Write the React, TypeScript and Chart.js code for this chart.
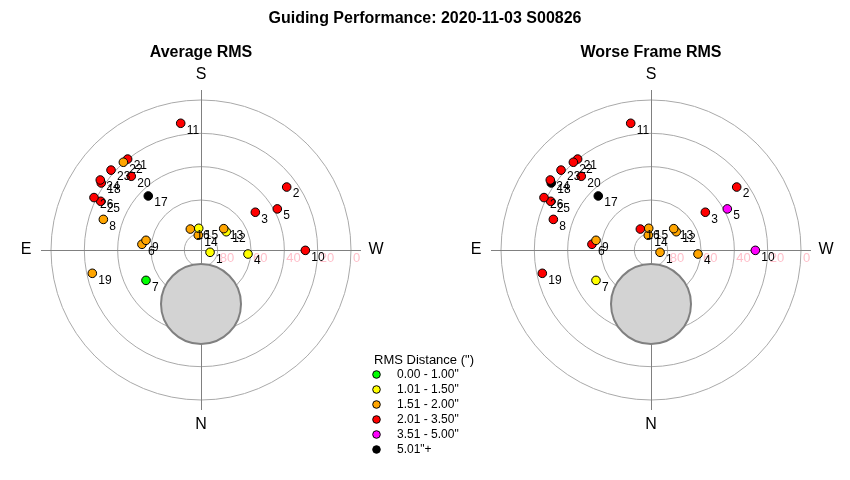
import React, { useEffect, useRef } from "react";
import { Chart, registerables } from "chart.js";

Chart.register(...registerables);

// ---------- data ----------
const chartTitle = "Guiding Performance: 2020-11-03 S00826";
const panelTitles = ["Average RMS", "Worse Frame RMS"];
const pointIds = [1, 2, 3, 4, 5, 6, 7, 8, 9, 10, 11, 12, 13, 14, 15, 16, 17, 18, 19, 20, 21, 22, 23, 24, 25, 26];
const altitudes = [84.4, 26.2, 50.3, 61.7, 38.0, 54.4, 52.3, 28.6, 56.5, 27.4, 13.0, 71.3, 71.3, 81.0, 76.9, 75.9, 44.7, 17.9, 23.3, 29.1, 19.9, 19.7, 17.8, 16.4, 23.1, 18.5];
const azimuths = [284.3, 233.7, 235.2, 274.9, 241.7, 95.5, 61.1, 107.4, 100.0, 270.2, 170.9, 234.1, 226.8, 169.6, 174.0, 153.0, 135.7, 123.9, 77.9, 136.6, 141.1, 138.5, 131.6, 124.8, 115.9, 116.1];
// RMS category index per point (index into binLabels / binColors)
const avgRmsBins = [1, 3, 3, 1, 3, 2, 0, 2, 2, 3, 3, 1, 2, 2, 1, 2, 5, 3, 2, 3, 3, 2, 3, 3, 3, 3];
const worstRmsBins = [2, 3, 3, 2, 4, 3, 1, 3, 2, 4, 3, 2, 2, 2, 2, 3, 5, 5, 3, 3, 3, 3, 3, 3, 3, 3];
const legendTitle = 'RMS Distance (")';
const binLabels = ['0.00 - 1.00"', '1.01 - 1.50"', '1.51 - 2.00"', '2.01 - 3.50"', '3.51 - 5.00"', '5.01"+'];
const binColors = ["#00ff00", "#ffff00", "#ffa500", "#ff0000", "#ff00ff", "#000000"];
const altitudeTicks = [80, 60, 40, 20, 0];
const directionLabels = ["N", "E", "S", "W"];
const directionAzimuths = [0, 90, 180, 270];
const moonAltitude = 57.6;
const moonAzimuth = 0;
const moonRadiusDeg = 24;

// ---------- layout (degrees of zenith distance as plot units) ----------
const PANEL_OFFSETS = [0, 270];
const X_MIN = -120.6;
const X_MAX = 389.4;
const Y_MIN = -138;
const Y_MAX = 150;
const AXIS_EXTENT = 96;
const DIR_LABEL_R = 105;

const FONT = '"Liberation Sans", Arial, Helvetica, sans-serif';

function toXY(alt: number, az: number, offset: number) {
  const zd = 90 - alt;
  const a = (az * Math.PI) / 180;
  return { x: offset - zd * Math.sin(a), y: -zd * Math.cos(a) };
}

const decorPlugin = {
  id: "polarDecor",
  beforeDatasetsDraw(chart: any) {
    const ctx: CanvasRenderingContext2D = chart.ctx;
    const xs = chart.scales.x;
    const ys = chart.scales.y;
    const k = xs.getPixelForValue(1) - xs.getPixelForValue(0);
    ctx.save();
    PANEL_OFFSETS.forEach((off) => {
      const cx = xs.getPixelForValue(off);
      const cy = ys.getPixelForValue(0);
      // grid circles
      ctx.strokeStyle = "#a9a9a9";
      ctx.lineWidth = 1;
      altitudeTicks.forEach((alt) => {
        ctx.beginPath();
        ctx.arc(cx, cy, (90 - alt) * k, 0, Math.PI * 2);
        ctx.stroke();
      });
      // axes
      ctx.strokeStyle = "#808080";
      ctx.beginPath();
      ctx.moveTo(xs.getPixelForValue(off - AXIS_EXTENT), Math.round(cy) + 0.5);
      ctx.lineTo(xs.getPixelForValue(off + AXIS_EXTENT), Math.round(cy) + 0.5);
      ctx.moveTo(Math.round(cx) + 0.5, ys.getPixelForValue(AXIS_EXTENT));
      ctx.lineTo(Math.round(cx) + 0.5, ys.getPixelForValue(-AXIS_EXTENT));
      ctx.stroke();
      // altitude tick labels
      ctx.fillStyle = "#ffc0cb";
      ctx.font = `13px ${FONT}`;
      ctx.textAlign = "left";
      ctx.textBaseline = "middle";
      altitudeTicks.forEach((alt) => {
        ctx.fillText(String(alt), cx + (90 - alt) * k + 2, cy + 8);
      });
      // moon avoidance area
      const m = toXY(moonAltitude, moonAzimuth, off);
      ctx.beginPath();
      ctx.arc(xs.getPixelForValue(m.x), ys.getPixelForValue(m.y), moonRadiusDeg * k, 0, Math.PI * 2);
      ctx.fillStyle = "#d3d3d3";
      ctx.fill();
      ctx.strokeStyle = "#808080";
      ctx.lineWidth = 2;
      ctx.stroke();
      ctx.lineWidth = 1;
      // direction labels
      ctx.fillStyle = "#000";
      ctx.font = `16px ${FONT}`;
      ctx.textAlign = "center";
      ctx.textBaseline = "middle";
      directionLabels.forEach((lab, i) => {
        const p = toXY(90 - DIR_LABEL_R, directionAzimuths[i], off);
        ctx.fillText(lab, xs.getPixelForValue(p.x), ys.getPixelForValue(p.y));
      });
    });
    ctx.restore();
  },
  afterDatasetsDraw(chart: any) {
    const ctx: CanvasRenderingContext2D = chart.ctx;
    ctx.save();
    ctx.fillStyle = "#000";
    ctx.font = `12px ${FONT}`;
    ctx.textAlign = "left";
    ctx.textBaseline = "middle";
    chart.data.datasets.forEach((ds: any, di: number) => {
      const meta = chart.getDatasetMeta(di);
      meta.data.forEach((el: any, i: number) => {
        ctx.fillText(String(pointIds[i]), el.x + 6, el.y + 7);
      });
    });
    ctx.restore();
  },
  afterDraw(chart: any) {
    const ctx: CanvasRenderingContext2D = chart.ctx;
    const xs = chart.scales.x;
    ctx.save();
    ctx.fillStyle = "#000";
    ctx.textAlign = "center";
    ctx.textBaseline = "middle";
    ctx.font = `bold 16px ${FONT}`;
    ctx.fillText(chartTitle, 425, 19);
    PANEL_OFFSETS.forEach((off, i) => {
      ctx.fillText(panelTitles[i], xs.getPixelForValue(off), 53);
    });
    // legend
    ctx.textAlign = "left";
    ctx.font = `13px ${FONT}`;
    ctx.fillText(legendTitle, 374, 360);
    ctx.font = `12px ${FONT}`;
    binLabels.forEach((lab, i) => {
      const y = 374.5 + i * 15;
      ctx.beginPath();
      ctx.arc(376.5, y, 3.8, 0, Math.PI * 2);
      ctx.fillStyle = binColors[i];
      ctx.fill();
      ctx.strokeStyle = "#000";
      ctx.lineWidth = 1;
      ctx.stroke();
      ctx.fillStyle = "#000";
      ctx.fillText(lab, 397, y);
    });
    ctx.restore();
  },
};

export default function App() {
  const ref = useRef<HTMLCanvasElement | null>(null);

  useEffect(() => {
    if (!ref.current) return;
    const binSets = [avgRmsBins, worstRmsBins];
    const datasets = PANEL_OFFSETS.map((off, pi) => ({
      label: panelTitles[pi],
      data: pointIds.map((_, i) => toXY(altitudes[i], azimuths[i], off)),
      pointBackgroundColor: binSets[pi].map((b) => binColors[b]),
      pointBorderColor: "#000",
      pointBorderWidth: 1,
      pointRadius: 4.3,
      pointHoverRadius: 4.3,
      showLine: false,
      clip: false as any,
    }));
    const chart = new Chart(ref.current, {
      type: "scatter",
      data: { datasets },
      options: {
        animation: false,
        responsive: false,
        events: [],
        layout: { padding: 0, autoPadding: false },
        scales: {
          x: { type: "linear", display: false, min: X_MIN, max: X_MAX },
          y: { type: "linear", display: false, min: Y_MIN, max: Y_MAX },
        },
        plugins: {
          legend: { display: false },
          title: { display: false },
          tooltip: { enabled: false },
        },
      },
      plugins: [decorPlugin],
    });
    return () => chart.destroy();
  }, []);

  return (
    <div style={{ position: "absolute", left: 0, top: 0, width: 850, height: 480, background: "#fff" }}>
      <canvas ref={ref} width={850} height={480} style={{ display: "block" }} />
    </div>
  );
}
